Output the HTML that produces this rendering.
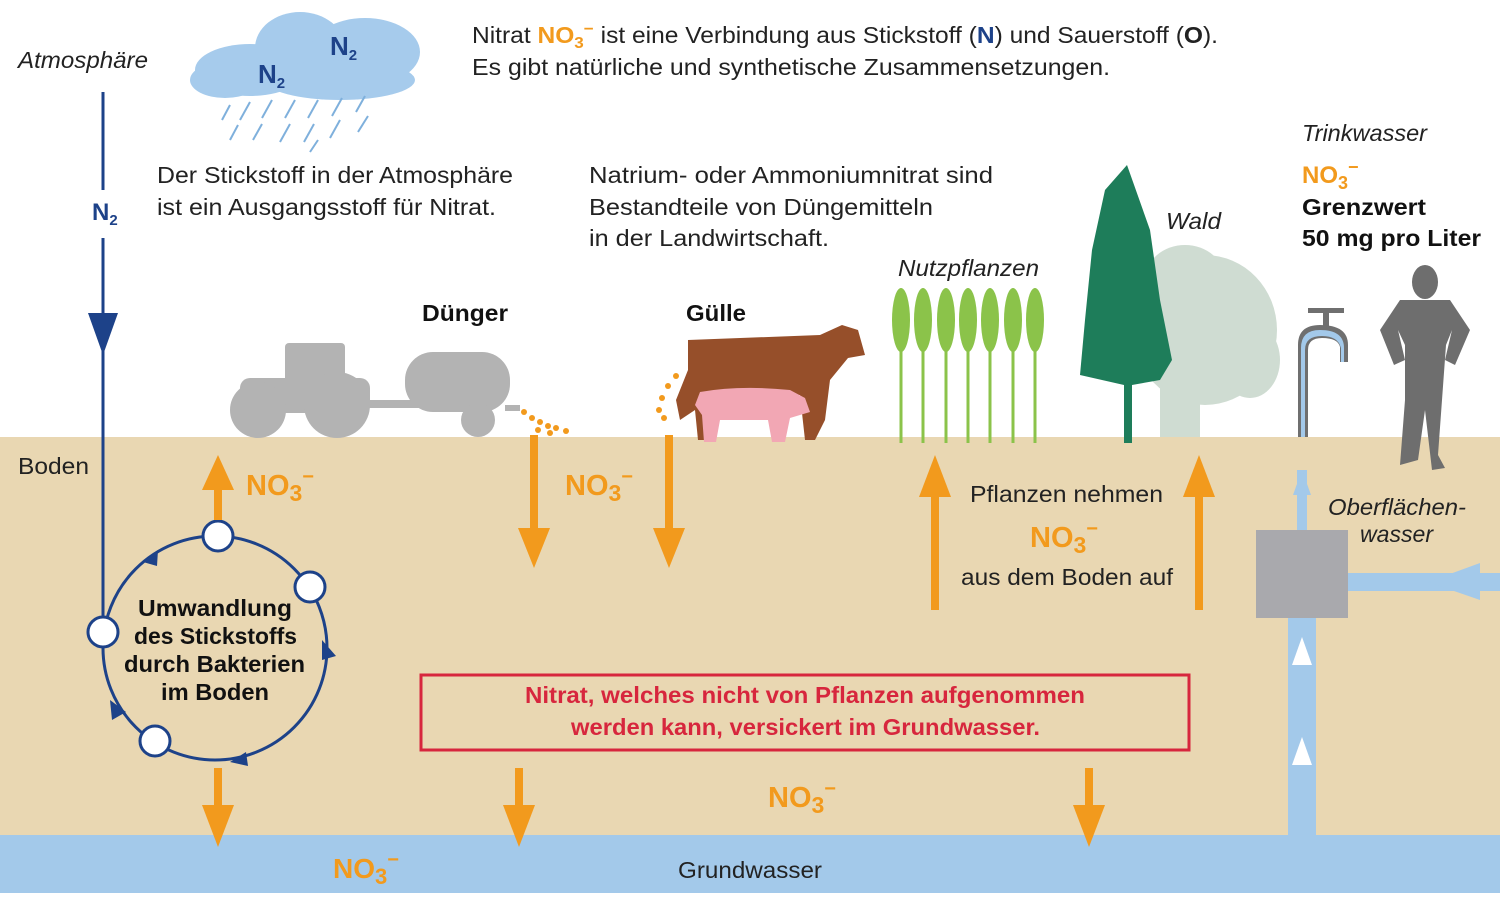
<!DOCTYPE html>
<html><head><meta charset="utf-8"><style>
html,body{margin:0;padding:0;background:#fff}
svg{display:block}
text{font-family:"Liberation Sans","DejaVu Sans",sans-serif}
</style></head><body>
<svg width="1500" height="897" viewBox="0 0 1500 897" xmlns="http://www.w3.org/2000/svg">
<rect x="0" y="0" width="1500" height="897" fill="#fff"/>
<rect x="0" y="437" width="1500" height="400" fill="#e9d7b2"/>
<rect x="0" y="835" width="1500" height="58" fill="#a3c9ea"/>
<text x="678" y="878" font-size="23" fill="#222" textLength="144" lengthAdjust="spacingAndGlyphs">Grundwasser</text>
<text x="333" y="878" font-size="28" font-weight="bold" fill="#f29a1d">NO<tspan font-size="22" dy="6">3</tspan><tspan font-size="20" dy="-18">−</tspan></text>

<text x="18" y="68" font-size="23" font-style="italic" fill="#222" textLength="130" lengthAdjust="spacingAndGlyphs">Atmosphäre</text>
<line x1="103" y1="92" x2="103" y2="190" stroke="#1d4289" stroke-width="3"/>
<text x="92" y="220" font-size="24" font-weight="bold" fill="#1d4289">N<tspan font-size="15" dy="5">2</tspan></text>
<line x1="103" y1="238" x2="103" y2="620" stroke="#1d4289" stroke-width="3"/>
<polygon points="88,313 118,313 103,355" fill="#1d4289"/>

<g fill="#a6cbec">
<ellipse cx="250" cy="70" rx="55" ry="26"/>
<ellipse cx="300" cy="48" rx="45" ry="36"/>
<ellipse cx="365" cy="52" rx="55" ry="34"/>
<ellipse cx="225" cy="80" rx="35" ry="18"/>
<ellipse cx="340" cy="80" rx="75" ry="20"/>
</g>
<text x="330" y="55" font-size="26" font-weight="bold" fill="#1d4289">N<tspan font-size="15" dy="5">2</tspan></text>
<text x="258" y="83" font-size="26" font-weight="bold" fill="#1d4289">N<tspan font-size="15" dy="5">2</tspan></text>
<g stroke="#7fb0dc" stroke-width="2">
<line x1="230" y1="105" x2="222" y2="120"/><line x1="250" y1="102" x2="240" y2="120"/><line x1="272" y1="100" x2="262" y2="118"/>
<line x1="295" y1="100" x2="285" y2="118"/><line x1="318" y1="100" x2="308" y2="118"/><line x1="342" y1="98" x2="332" y2="116"/>
<line x1="365" y1="96" x2="356" y2="112"/><line x1="238" y1="125" x2="230" y2="140"/><line x1="262" y1="124" x2="253" y2="140"/>
<line x1="290" y1="124" x2="280" y2="142"/><line x1="314" y1="124" x2="304" y2="142"/><line x1="340" y1="120" x2="330" y2="138"/>
<line x1="368" y1="116" x2="358" y2="132"/><line x1="318" y1="140" x2="310" y2="152"/>
</g>

<text x="472" y="43" font-size="23" fill="#222" textLength="746" lengthAdjust="spacingAndGlyphs">Nitrat <tspan font-weight="bold" fill="#f29a1d">NO<tspan font-size="16" dy="5">3</tspan><tspan font-size="16" dy="-14">−</tspan></tspan><tspan dy="9"> ist eine Verbindung aus Stickstoff (</tspan><tspan font-weight="bold" fill="#1d4289">N</tspan>) und Sauerstoff (<tspan font-weight="bold">O</tspan>).</text>
<text x="472" y="75" font-size="23" fill="#222" textLength="638" lengthAdjust="spacingAndGlyphs">Es gibt natürliche und synthetische Zusammensetzungen.</text>
<text x="157" y="183" font-size="23" fill="#222" textLength="356" lengthAdjust="spacingAndGlyphs">Der Stickstoff in der Atmosphäre</text>
<text x="157" y="215" font-size="23" fill="#222" textLength="339" lengthAdjust="spacingAndGlyphs">ist ein Ausgangsstoff für Nitrat.</text>
<text x="589" y="183" font-size="23" fill="#222" textLength="404" lengthAdjust="spacingAndGlyphs">Natrium- oder Ammoniumnitrat sind</text>
<text x="589" y="215" font-size="23" fill="#222" textLength="344" lengthAdjust="spacingAndGlyphs">Bestandteile von Düngemitteln</text>
<text x="589" y="246" font-size="23" fill="#222" textLength="240" lengthAdjust="spacingAndGlyphs">in der Landwirtschaft.</text>
<text x="1302" y="141" font-size="23" font-style="italic" fill="#222" textLength="125" lengthAdjust="spacingAndGlyphs">Trinkwasser</text>
<text x="1302" y="183" font-size="24" font-weight="bold" fill="#f29a1d">NO<tspan font-size="18" dy="6">3</tspan><tspan font-size="18" dy="-16">−</tspan></text>
<text x="1302" y="215" font-size="23" font-weight="bold" fill="#111" textLength="124" lengthAdjust="spacingAndGlyphs">Grenzwert</text>
<text x="1302" y="246" font-size="23" font-weight="bold" fill="#111" textLength="179" lengthAdjust="spacingAndGlyphs">50 mg pro Liter</text>
<text x="1166" y="229" font-size="23" font-style="italic" fill="#222" textLength="55" lengthAdjust="spacingAndGlyphs">Wald</text>
<text x="898" y="276" font-size="23" font-style="italic" fill="#222" textLength="141" lengthAdjust="spacingAndGlyphs">Nutzpflanzen</text>
<text x="422" y="321" font-size="23" font-weight="bold" fill="#111" textLength="86" lengthAdjust="spacingAndGlyphs">Dünger</text>
<text x="686" y="321" font-size="23" font-weight="bold" fill="#111" textLength="60" lengthAdjust="spacingAndGlyphs">Gülle</text>

<g fill="#b3b3b3">
<rect x="285" y="343" width="60" height="50" rx="4"/>
<rect x="240" y="378" width="130" height="35" rx="10"/>
<circle cx="258" cy="410" r="28"/>
<circle cx="337" cy="405" r="33"/>
<rect x="365" y="400" width="60" height="8"/>
<rect x="405" y="352" width="105" height="60" rx="28"/>
<circle cx="478" cy="420" r="17"/>
<rect x="505" y="405" width="15" height="6"/>
</g>
<g fill="#f29a1d">
<circle cx="524" cy="412" r="3"/><circle cx="532" cy="418" r="3"/><circle cx="540" cy="422" r="3"/><circle cx="548" cy="426" r="3"/>
<circle cx="556" cy="428" r="3"/><circle cx="566" cy="431" r="3"/><circle cx="538" cy="430" r="3"/><circle cx="550" cy="433" r="3"/>
<circle cx="659" cy="410" r="3"/><circle cx="662" cy="398" r="3"/><circle cx="668" cy="386" r="3"/><circle cx="676" cy="376" r="3"/><circle cx="664" cy="418" r="3"/>
</g>
<g fill="#964f2a">
<path d="M688 340 L820 335 L842 325 L858 330 L865 355 L848 358 L830 380 L825 420 L815 440 L805 440 L800 395 L720 400 L710 440 L698 440 L695 410 L680 420 L676 400 L688 370 Z"/>
</g>
<g fill="#f2a7b4">
<path d="M700 392 Q740 385 790 390 L805 398 L810 412 L790 418 L785 442 L772 442 L768 420 L720 420 L716 442 L704 442 L702 415 L695 405 Z"/>
</g>
<g stroke="#8bc34a" stroke-width="3">
<line x1="901" y1="300" x2="901" y2="443"/><line x1="923" y1="300" x2="923" y2="443"/><line x1="946" y1="300" x2="946" y2="443"/>
<line x1="968" y1="300" x2="968" y2="443"/><line x1="990" y1="300" x2="990" y2="443"/><line x1="1013" y1="300" x2="1013" y2="443"/><line x1="1035" y1="300" x2="1035" y2="443"/>
</g>
<g fill="#8bc34a">
<ellipse cx="901" cy="320" rx="9" ry="32"/><ellipse cx="923" cy="320" rx="9" ry="32"/><ellipse cx="946" cy="320" rx="9" ry="32"/>
<ellipse cx="968" cy="320" rx="9" ry="32"/><ellipse cx="990" cy="320" rx="9" ry="32"/><ellipse cx="1013" cy="320" rx="9" ry="32"/><ellipse cx="1035" cy="320" rx="9" ry="32"/>
</g>
<g fill="#cfdcd2">
<ellipse cx="1205" cy="330" rx="72" ry="75"/>
<ellipse cx="1185" cy="280" rx="40" ry="35"/>
<ellipse cx="1250" cy="360" rx="30" ry="38"/>
<rect x="1160" y="370" width="40" height="67"/>
</g>
<path d="M1127 165 L1150 230 L1160 300 L1172 360 L1160 380 L1132 385 L1132 443 L1124 443 L1124 385 L1080 375 L1085 320 L1092 250 L1105 190 Z" fill="#1e7d5a"/>
<path d="M1298 437 L1298 345 Q1298 325 1320 325 Q1348 325 1348 345 L1348 362 L1340 362 L1340 347 Q1338 338 1322 338 Q1308 338 1308 350 L1308 437 Z" fill="#6f6f6f"/>
<path d="M1301 437 L1301 348 Q1301 330 1320 330 Q1344 330 1344 348 L1344 362 L1341 362 L1341 348 Q1338 336 1322 336 Q1305 336 1305 350 L1305 437 Z" fill="#a3c9ea"/>
<rect x="1308" y="308" width="36" height="5" fill="#6f6f6f"/><rect x="1323" y="308" width="6" height="20" fill="#6f6f6f"/>
<g fill="#6e6e6e">
<ellipse cx="1425" cy="282" rx="13" ry="17"/>
<path d="M1400 300 L1450 300 L1470 330 L1455 365 L1445 360 L1452 330 L1446 345 L1442 400 L1438 455 L1445 468 L1432 470 L1425 410 L1418 460 L1400 465 L1405 400 L1405 345 L1398 330 L1405 360 L1394 365 L1380 330 Z"/>
</g>
<text x="18" y="474" font-size="23" fill="#222" textLength="71" lengthAdjust="spacingAndGlyphs">Boden</text>

<rect x="1297" y="470" width="10" height="62" fill="#a3c9ea"/>
<polygon points="1302,470 1293,495 1311,495" fill="#a3c9ea"/>
<rect x="1288" y="615" width="28" height="222" fill="#a3c9ea"/>
<polygon points="1302,637 1292,665 1312,665" fill="#fff"/>
<polygon points="1302,737 1292,765 1312,765" fill="#fff"/>
<rect x="1346" y="573" width="154" height="18" fill="#a3c9ea"/>
<polygon points="1428,582 1480,563 1480,600" fill="#a3c9ea"/>
<rect x="1256" y="530" width="92" height="88" fill="#a9a9ad"/>
<text x="1328" y="515" font-size="23" font-style="italic" fill="#222" textLength="138" lengthAdjust="spacingAndGlyphs">Oberflächen-</text>
<text x="1360" y="542" font-size="23" font-style="italic" fill="#222" textLength="73" lengthAdjust="spacingAndGlyphs">wasser</text>

<circle cx="215" cy="648" r="112" fill="none" stroke="#1d4289" stroke-width="3"/>
<g fill="#1d4289">
<polygon points="143,562 158,550 157,566"/>
<polygon points="322,640 336,656 322,660"/>
<polygon points="110,700 126,712 112,720"/>
<polygon points="230,762 246,752 248,766"/>
</g>
<g fill="#fff" stroke="#1d4289" stroke-width="3">
<circle cx="218" cy="536" r="15"/><circle cx="310" cy="587" r="15"/><circle cx="103" cy="632" r="15"/><circle cx="155" cy="741" r="15"/>
</g>
<g font-size="23" font-weight="bold" fill="#111">
<text x="138" y="616" textLength="154" lengthAdjust="spacingAndGlyphs">Umwandlung</text>
<text x="134" y="644" textLength="163" lengthAdjust="spacingAndGlyphs">des Stickstoffs</text>
<text x="124" y="672" textLength="181" lengthAdjust="spacingAndGlyphs">durch Bakterien</text>
<text x="161" y="700" textLength="108" lengthAdjust="spacingAndGlyphs">im Boden</text>
</g>

<g fill="#f29a1d">
<rect x="214" y="480" width="8" height="40"/><polygon points="202,490 234,490 218,455"/>
<rect x="530" y="435" width="8" height="100"/><polygon points="518,528 550,528 534,568"/>
<rect x="665" y="435" width="8" height="100"/><polygon points="653,528 685,528 669,568"/>
<rect x="931" y="485" width="8" height="125"/><polygon points="919,497 951,497 935,455"/>
<rect x="1195" y="485" width="8" height="125"/><polygon points="1183,497 1215,497 1199,455"/>
<rect x="214" y="768" width="8" height="45"/><polygon points="202,805 234,805 218,847"/>
<rect x="515" y="768" width="8" height="45"/><polygon points="503,805 535,805 519,847"/>
<rect x="1085" y="768" width="8" height="45"/><polygon points="1073,805 1105,805 1089,847"/>
</g>
<g font-size="29" font-weight="bold" fill="#f29a1d">
<text x="246" y="495">NO<tspan font-size="23" dy="6">3</tspan><tspan font-size="20" dy="-18">−</tspan></text>
<text x="565" y="495">NO<tspan font-size="23" dy="6">3</tspan><tspan font-size="20" dy="-18">−</tspan></text>
<text x="1030" y="547">NO<tspan font-size="23" dy="6">3</tspan><tspan font-size="20" dy="-18">−</tspan></text>
<text x="768" y="807">NO<tspan font-size="23" dy="6">3</tspan><tspan font-size="20" dy="-18">−</tspan></text>
</g>
<text x="970" y="502" font-size="23" fill="#222" textLength="193" lengthAdjust="spacingAndGlyphs">Pflanzen nehmen</text>
<text x="961" y="585" font-size="23" fill="#222" textLength="212" lengthAdjust="spacingAndGlyphs">aus dem Boden auf</text>

<rect x="421" y="675" width="768" height="75" fill="none" stroke="#d7263d" stroke-width="3"/>
<text x="525" y="703" font-size="23" font-weight="bold" fill="#d7263d" textLength="560" lengthAdjust="spacingAndGlyphs">Nitrat, welches nicht von Pflanzen aufgenommen</text>
<text x="571" y="735" font-size="23" font-weight="bold" fill="#d7263d" textLength="469" lengthAdjust="spacingAndGlyphs">werden kann, versickert im Grundwasser.</text>
</svg>
</body></html>
